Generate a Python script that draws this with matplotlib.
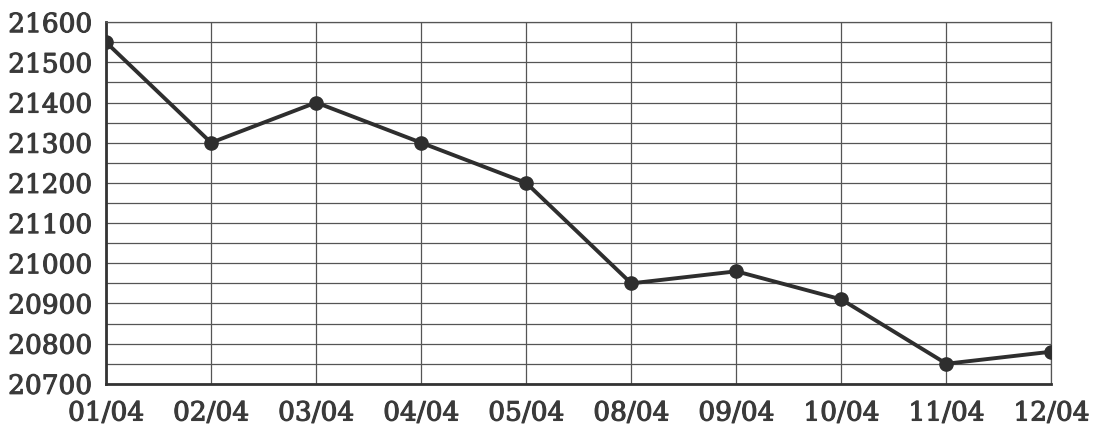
import matplotlib
matplotlib.use("Agg")
import matplotlib.pyplot as plt
import matplotlib.patheffects as pe
import numpy as np

# data
dates = ['01/04', '02/04', '03/04', '04/04', '05/04',
         '08/04', '09/04', '10/04', '11/04', '12/04']
values = [21550, 21300, 21400, 21300, 21200,
          20950, 20980, 20910, 20750, 20780]
y_labels = [20700, 20800, 20900, 21000, 21100, 21200, 21300, 21400, 21500, 21600]

plt.rcParams['font.family'] = ['DejaVu Serif']

fig = plt.figure(figsize=(10.93, 4.26), dpi=100)
ax = fig.add_axes([0.097, 0.099, 0.865, 0.849])

x = np.arange(len(dates))
ax.plot(x, values, color='#2e2e2e', lw=2.8, marker='o', ms=9.5, zorder=3)

ax.set_xlim(0, len(dates) - 1)
ax.set_ylim(y_labels[0], y_labels[-1])
ax.set_xticks(x)
ax.set_xticklabels(dates)
ax.set_yticks(y_labels)
ax.set_yticks(np.arange(y_labels[0], y_labels[-1] + 1, 50), minor=True)
ax.grid(True, which='both', color='#555555', lw=0.9)
ax.tick_params(which='both', length=0)
ax.tick_params(axis='x', pad=12)
ax.tick_params(axis='y', pad=10)
thick = [pe.withStroke(linewidth=0.8, foreground='#3a3a3a')]
for lab in ax.get_yticklabels() + ax.get_xticklabels():
    lab.set_fontsize(19)
    lab.set_color('#3a3a3a')
    lab.set_path_effects(thick)

for side in ['top', 'right']:
    ax.spines[side].set_linewidth(0.9)
    ax.spines[side].set_color('#555555')
for side in ['left', 'bottom']:
    ax.spines[side].set_linewidth(2.0)
    ax.spines[side].set_color('#333333')

fig.savefig('out.png', dpi=100)
